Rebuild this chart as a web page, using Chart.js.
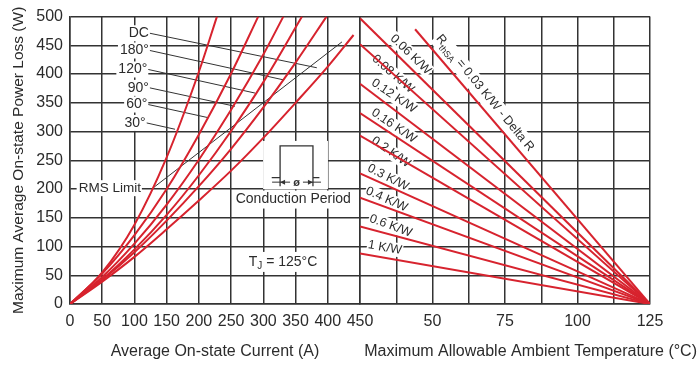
<!DOCTYPE html>
<html><head><meta charset="utf-8">
<script src="https://cdn.jsdelivr.net/npm/chart.js@4.4.0/dist/chart.umd.min.js"></script>
<style>html,body{margin:0;padding:0;background:#fff;}canvas{display:block;}</style>
</head><body>
<canvas id="c" width="699" height="365"></canvas>
<script>
// ---------------- DATA ----------------
// Left panel: maximum average on-state power loss (W) vs average on-state current (A)
const conductionLabels = ['30°', '60°', '90°', '120°', '180°', 'DC'];
const cur30  = [0, 50, 100, 150, 200, 228];
const pow30  = [0, 55, 138, 255, 404, 500];
const cur60  = [0, 50, 100, 150, 200, 250, 292];
const pow60  = [0, 53, 120, 200, 295, 401, 500];
const cur90  = [0, 50, 100, 150, 200, 250, 300, 331];
const pow90  = [0, 47, 105, 173, 251, 338, 434, 500];
const cur120 = [0, 50, 100, 150, 200, 250, 300, 360];
const pow120 = [0, 43, 95, 155, 224, 301, 386, 500];
const cur180 = [0, 50, 100, 150, 200, 250, 300, 350, 398];
const pow180 = [0, 42, 90, 145, 205, 270, 342, 420, 500];
const curDC  = [0, 50, 100, 150, 200, 250, 300, 350, 400, 440];
const powDC  = [0, 39, 82, 130, 180, 232, 289, 350, 413, 468];
const curveCurrents = [cur30, cur60, cur90, cur120, cur180, curDC];
const curvePowers   = [pow30, pow60, pow90, pow120, pow180, powDC];

// label leader lines (start near label, end at curve)
const leaderFromI = [119, 121.5, 124, 121.5, 124, 124];
const leaderFromP = [315, 347, 376, 408, 441, 471];
const leaderToI   = [163, 215, 256, 287, 331, 383];
const leaderToP   = [304, 324, 344, 367, 390, 411];

// RMS limit line
const rmsCurrent = [129, 422];
const rmsPower   = [202, 456];

// Right panel: power vs max allowable ambient temperature for heatsink resistances
const rthNames  = ['0.03 K/W', '0.06 K/W', '0.08 K/W', '0.12 K/W', '0.16 K/W', '0.2 K/W', '0.3 K/W', '0.4 K/W', '0.6 K/W', '1 K/W'];
const rthFromT  = [44, 25, 25, 25, 25, 25, 25, 25, 25, 25];
const rthFromP  = [478, 497, 452, 383, 332, 293, 227, 185, 135, 88];
const rthToT    = [125, 125, 125, 125, 125, 125, 125, 125, 125, 125];
const rthToP    = [0, 0, 0, 0, 0, 0, 0, 0, 0, 0];
// label placement (temperature, power, angle)
const rthLabT   = [68.1, 42.5, 36.4, 36.7, 36.7, 35.7, 34.7, 34.2, 35.6, 33.6];
const rthLabP   = [367, 434, 400, 362, 310, 264, 220, 182, 136, 98];
const rthLabA   = [50.6, 44, 41, 34, 34, 35, 27, 24, 20, 10];

// axis ticks
const currentTicks = [0, 50, 100, 150, 200, 250, 300, 350, 400, 450];
const tempTickLabels = [50, 75, 100, 125];
const powerTicks = [0, 50, 100, 150, 200, 250, 300, 350, 400, 450, 500];

// ---------------- STYLE ----------------
const FONT = '"Liberation Sans", Arial, Helvetica, sans-serif';
const TEXT = '#2b2b2b';
const RED = '#d7232e';
const GRID = '#333';

const datasets = [];
curveCurrents.forEach((cs, i) => {
  datasets.push({
    label: conductionLabels[i], xAxisID: 'xL', yAxisID: 'y',
    data: cs.map((c, k) => ({x: c, y: curvePowers[i][k]})),
    borderColor: RED, borderWidth: 2, pointRadius: 0,
    cubicInterpolationMode: 'monotone', order: 0
  });
});
rthNames.forEach((n, i) => {
  datasets.push({
    label: n, xAxisID: 'xR', yAxisID: 'y',
    data: [{x: rthFromT[i], y: rthFromP[i]}, {x: rthToT[i], y: rthToP[i]}],
    borderColor: RED, borderWidth: 2, pointRadius: 0, order: 0
  });
});
conductionLabels.forEach((n, i) => {
  datasets.push({
    label: 'leader ' + n, xAxisID: 'xL', yAxisID: 'y',
    data: [{x: leaderFromI[i], y: leaderFromP[i]}, {x: leaderToI[i], y: leaderToP[i]}],
    borderColor: '#333', borderWidth: 1, pointRadius: 0, order: 1
  });
});
datasets.push({
  label: 'RMS Limit', xAxisID: 'xL', yAxisID: 'y',
  data: rmsCurrent.map((c, k) => ({x: c, y: rmsPower[k]})),
  borderColor: '#333', borderWidth: 1, pointRadius: 0, order: 1
});

function knock(ctx, x, y, w, h) { ctx.fillStyle = '#fff'; ctx.fillRect(x, y, w, h); }

const annotPlugin = {
  id: 'annot',
  beforeDatasetsDraw(chart) {
    const {ctx, scales: {xL, xR, y}} = chart;
    const X = v => xL.getPixelForValue(v), XR = v => xR.getPixelForValue(v), Y = v => y.getPixelForValue(v);
    ctx.save();
    // conduction angle labels
    ctx.font = '14px ' + FONT; ctx.textBaseline = 'middle'; ctx.textAlign = 'right';
    conductionLabels.forEach((t, i) => {
      const px = X(leaderFromI[i]) - 1, py = Y(leaderFromP[i]);
      const w = ctx.measureText(t).width;
      knock(ctx, px - w - 2, py - 8, w + 3, 16);
      ctx.fillStyle = TEXT; ctx.fillText(t, px, py);
    });
    // RMS limit label
    {
      const t = 'RMS Limit';
      const px = X(110), py = Y(201.5);
      ctx.font = '13.5px ' + FONT;
      const w = ctx.measureText(t).width;
      knock(ctx, px - w - 2, py - 8, w + 3, 16);
      ctx.fillStyle = TEXT; ctx.fillText(t, px, py);
    }
    // conduction period inset
    {
      const l = X(326), r = X(377), top = Y(275), bot = Y(220);
      const bl = X(313), br = X(387), ay = Y(212);
      knock(ctx, l - 17, top - 5, (r - l) + 32, (ay - top) + 12);
      ctx.strokeStyle = '#333'; ctx.lineWidth = 1.3;
      ctx.beginPath();
      ctx.moveTo(bl, bot); ctx.lineTo(l, bot); ctx.lineTo(l, top); ctx.lineTo(r, top); ctx.lineTo(r, bot); ctx.lineTo(br, bot);
      ctx.moveTo(l, bot); ctx.lineTo(l, ay + 4);
      ctx.moveTo(r, bot); ctx.lineTo(r, ay + 4);
      ctx.stroke();
      ctx.lineWidth = 1;
      ctx.beginPath();
      ctx.moveTo(l - 8, ay); ctx.lineTo(l + 10, ay);
      ctx.moveTo(r - 10, ay); ctx.lineTo(r + 8, ay);
      ctx.stroke();
      ctx.fillStyle = '#333';
      ctx.beginPath(); ctx.moveTo(l, ay); ctx.lineTo(l + 5, ay - 2.5); ctx.lineTo(l + 5, ay + 2.5); ctx.fill();
      ctx.beginPath(); ctx.moveTo(r, ay); ctx.lineTo(r - 5, ay - 2.5); ctx.lineTo(r - 5, ay + 2.5); ctx.fill();
      ctx.font = 'bold 11px ' + FONT; ctx.textAlign = 'center';
      ctx.fillText('ø', (l + r) / 2, ay + 1);
      // caption
      const t = 'Conduction Period';
      ctx.font = '14px ' + FONT;
      const cx = X(346.5), cy = Y(181.7);
      const w = ctx.measureText(t).width;
      knock(ctx, cx - w / 2 - 2, cy - 9, w + 4, 18);
      ctx.fillStyle = TEXT; ctx.fillText(t, cx, cy);
    }
    // TJ label
    {
      const cx = X(330.5), cy = Y(73.2);
      ctx.font = '14px ' + FONT;
      const w1 = ctx.measureText('T').width;
      ctx.font = '10px ' + FONT;
      const w2 = ctx.measureText('J').width;
      ctx.font = '14px ' + FONT;
      const w3 = ctx.measureText(' = 125°C').width;
      const W = w1 + w2 + w3;
      let x0 = cx - W / 2;
      knock(ctx, x0 - 3, cy - 10, W + 6, 20);
      ctx.fillStyle = TEXT; ctx.textAlign = 'left';
      ctx.fillText('T', x0, cy);
      ctx.font = '10px ' + FONT; ctx.fillText('J', x0 + w1, cy + 4);
      ctx.font = '14px ' + FONT; ctx.fillText(' = 125°C', x0 + w1 + w2, cy);
    }
    // heatsink resistance labels
    ctx.textAlign = 'center';
    rthNames.forEach((t, i) => {
      ctx.save();
      ctx.translate(XR(rthLabT[i]), Y(rthLabP[i]));
      ctx.rotate(rthLabA[i] * Math.PI / 180);
      if (i === 0) {
        ctx.font = '12.5px ' + FONT;
        const a = 'R', c = ' = ' + t + ' - Delta R';
        const wa = ctx.measureText(a).width, wc = ctx.measureText(c).width;
        ctx.font = '9px ' + FONT;
        const b = 'thSA'; const wb = ctx.measureText(b).width;
        const W = wa + wb + wc;
        knock(ctx, -W / 2 - 1, -8, W + 2, 18);
        ctx.fillStyle = TEXT; ctx.textAlign = 'left';
        let x0 = -W / 2;
        ctx.font = '12.5px ' + FONT; ctx.fillText(a, x0, 0);
        ctx.font = '9px ' + FONT; ctx.fillText(b, x0 + wa, 5);
        ctx.font = '12.5px ' + FONT; ctx.fillText(c, x0 + wa + wb, 0);
      } else {
        ctx.font = '12.5px ' + FONT;
        const w = ctx.measureText(t).width;
        knock(ctx, -w / 2 - 1, -7, w + 2, 14);
        ctx.fillStyle = TEXT; ctx.fillText(t, 0, 0);
      }
      ctx.restore();
    });
    ctx.restore();
  },
  afterDraw(chart) {
    const {ctx} = chart;
    ctx.save();
    ctx.font = '16px ' + FONT; ctx.fillStyle = TEXT;
    ctx.textAlign = 'right'; ctx.textBaseline = 'middle';
    ctx.fillText('Maximum Allowable Ambient Temperature (°C)', chart.width - 2, 352);
    ctx.restore();
  }
};

const tickFont = {family: FONT, size: 16};
const gridOpts = {color: GRID, lineWidth: 1.5, drawTicks: false};
const borderOpts = {color: GRID, width: 1.5};

new Chart(document.getElementById('c'), {
  type: 'line',
  data: {datasets},
  options: {
    responsive: false, animation: false,
    layout: {padding: {left: 0, right: 49, top: 15, bottom: 0}},
    plugins: {legend: {display: false}, tooltip: {enabled: false}},
    elements: {point: {radius: 0}, line: {tension: 0}},
    scales: {
      xL: {
        type: 'linear', position: 'bottom', stack: 'x', stackWeight: 1,
        min: currentTicks[0], max: currentTicks[currentTicks.length - 1],
        afterBuildTicks: s => { s.ticks = currentTicks.map(v => ({value: v})); },
        ticks: {autoSkip: false, maxRotation: 0, padding: 8, font: tickFont, color: TEXT},
        grid: gridOpts, border: borderOpts,
        title: {display: true, text: 'Average On-state Current (A)', color: TEXT, font: {family: FONT, size: 16}, padding: {top: 0, bottom: 4}},
        afterFit: s => { s.height = 61; }
      },
      xR: {
        type: 'linear', position: 'bottom', stack: 'x', stackWeight: 1,
        min: 25, max: 125,
        ticks: {stepSize: 12.5, autoSkip: false, maxRotation: 0, padding: 8, font: tickFont, color: TEXT,
          callback: v => tempTickLabels.includes(v) ? String(v) : ''},
        grid: gridOpts, border: borderOpts,
        afterFit: s => { s.height = 61; }
      },
      y: {
        type: 'linear', position: 'left',
        min: powerTicks[0], max: powerTicks[powerTicks.length - 1],
        afterBuildTicks: s => { s.ticks = powerTicks.map(v => ({value: v})); },
        ticks: {padding: 7, font: tickFont, color: TEXT},
        grid: gridOpts, border: borderOpts,
        title: {display: true, text: 'Maximum Average On-state Power Loss (W)', color: TEXT, font: {family: FONT, size: 15.5}, padding: {top: 9, bottom: 0}},
        afterFit: s => { s.width = 70; }
      }
    }
  },
  plugins: [annotPlugin]
});
</script>
</body></html>
